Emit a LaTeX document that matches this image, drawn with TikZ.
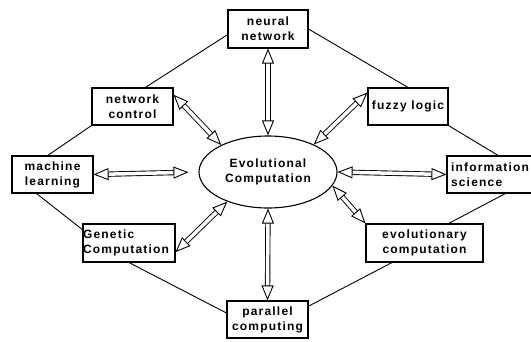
\documentclass[tikz,border=0pt]{standalone}
\usepackage{fontspec}
\setmainfont{Liberation Sans}[LetterSpace=10]
\usetikzlibrary{arrows.meta,shapes.geometric}

\begin{document}
\begin{tikzpicture}[x=1pt, y=-1pt,
      box/.style={draw, line width=1.1pt, inner sep=0pt, align=center,
        font=\bfseries\fontsize{12}{15}\selectfont},
      link/.style={line width=0.9pt},
      dblarrow/.style={double, double distance=3.5pt, line width=0.9pt,
        {Triangle[open, length=15pt, width=12pt, line width=0.9pt]}-{Triangle[open, length=15pt, width=12pt, line width=0.9pt]}}
    ]
    \useasboundingbox (0,0) rectangle (531,341);
    \node[box, ellipse, minimum width=138, minimum height=72] (core) at (268,172) {Evolutional\\Computation};
    \node[box, minimum width=80, minimum height=38] (neural) at (268,29) {neural\\network};
    \node[box, minimum width=81, minimum height=37] (ctrl) at (132.5,106.5) {network\\control};
    \node[box, minimum width=81, minimum height=37] (machine) at (52.5,174.5) {machine\\learning};
    \node[box, minimum width=92, minimum height=38, text width=92, align=left] (genetic) at (129,243) {Genetic\\Computation};
    \node[box, minimum width=81, minimum height=37] (parallel) at (267.5,319.5) {parallel\\computing};
    \node[box, minimum width=117, minimum height=38] (evol) at (424.5,243) {evolutionary\\computation};
    \node[box, minimum width=92, minimum height=37, text width=84, align=left] (info) at (493,174.5) {information\\science};
    \node[box, minimum width=80, minimum height=37] (fuzzy) at (408,106.5) {fuzzy logic};
    % outer ring
    \draw[link] (neural.188) -- (ctrl.56);
    \draw[link] (ctrl.south west) -- (machine.104);
    \draw[link] (machine.230) -- (genetic.164);
    \draw[link] (genetic.south) -- (parallel.171);
    \draw[link] (parallel.18) -- (evol.211);
    \draw[link] (evol.39) -- (info.303);
    \draw[link] (info.75) -- (fuzzy.south east);
    \draw[link] (fuzzy.north) -- (neural.east);
    % links to the core
    \draw[dblarrow] (neural.south) -- (core.north);
    \draw[dblarrow] (parallel.north) -- (core.south);
    \draw[dblarrow] (ctrl.16) -- (core.150);
    \draw[dblarrow] (fuzzy.161) -- (core.31);
    \draw[dblarrow, shorten >=10pt] (machine.east) -- (core.west);
    \draw[dblarrow] (core.east) -- (info.west);
    \draw[dblarrow] (genetic.349) -- (core.216);
    \draw[dblarrow] (core.348) -- (evol.north west);
\end{tikzpicture}
\end{document}
